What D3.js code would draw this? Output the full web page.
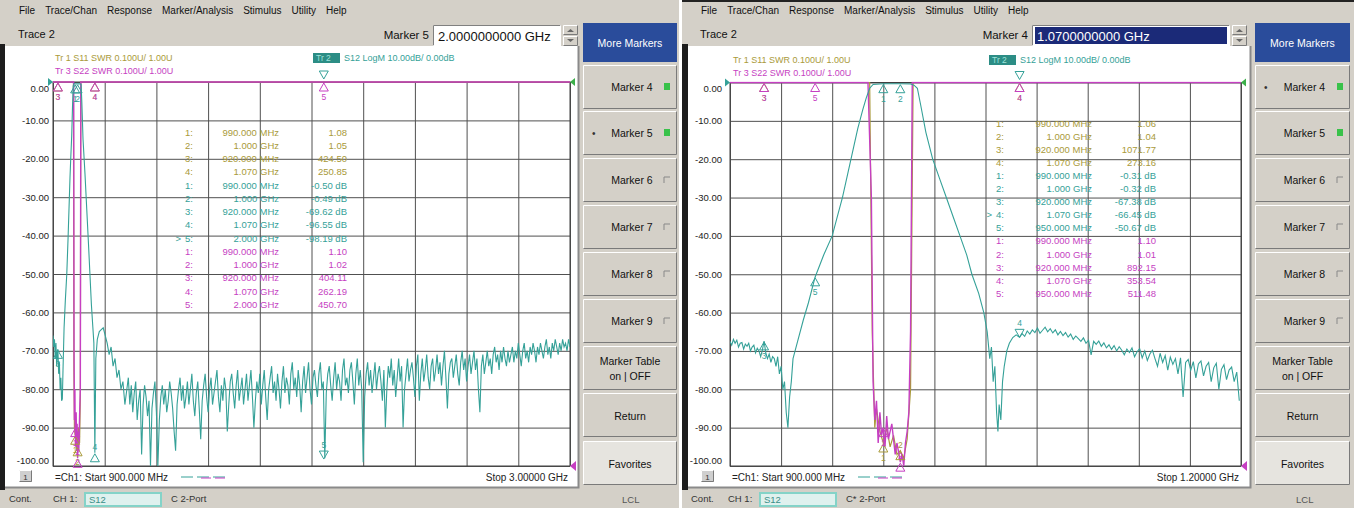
<!DOCTYPE html>
<html>
<head>
<meta charset="utf-8">
<script src="https://cdnjs.cloudflare.com/ajax/libs/d3/7.8.5/d3.min.js"></script>
<style>
body { margin: 0; background: #fff; }
svg text { font-family: "Liberation Sans", Arial, sans-serif; }
</style>
</head>
<body>
<div id="main"></div>
<script>
const yTicks = [0, -10, -20, -30, -40, -50, -60, -70, -80, -90, -100];
const leftGridFreqs = [900, 1110, 1320, 1530, 1740, 1950, 2160, 2370, 2580, 2790, 3000];
const rightGridFreqs = [900, 930, 960, 990, 1020, 1050, 1080, 1110, 1140, 1170, 1200];
const menuItems = ['File', 'Trace/Chan', 'Response', 'Marker/Analysis', 'Stimulus', 'Utility', 'Help'];
const sideButtons = ['Marker 4', 'Marker 5', 'Marker 6', 'Marker 7', 'Marker 8', 'Marker 9', 'Marker Table\non | OFF', 'Return', 'Favorites'];

// left screen, S12 LogM [MHz, dB] (filter skirts up to 1200 MHz)
const leftS12Shape = [[900,-66],[903,-69],[906,-67],[909,-72],[912,-68],[915,-74],[918,-70],[920,-69.6],[923,-76],[926,-73],
  [929,-80],[932,-77],[935,-83],[938,-82.5],[941,-74],[945,-64],[950,-57],[956,-50],[961,-41],[965,-33],[969,-25],[972,-20],
  [976,-14],[979,-7],[982,-1],[986,-0.4],[990,-0.5],[1000,-0.49],[1008,-0.5],[1014,-0.6],[1017,-5],[1022,-15],[1030,-24],
  [1037,-33],[1044,-42],[1050,-50],[1056,-58],[1062,-64],[1066,-68],[1070,-96.55],[1074,-72],[1080,-67],[1088,-65],[1096,-64.5],
  [1104,-64],[1112,-66],[1120,-68],[1128,-71],[1136,-69],[1144,-74],[1152,-72],[1160,-77],[1168,-75],[1176,-80],[1184,-78],[1192,-84]];
// left noise floor: one sweep point every 6 MHz from 1200 MHz
const leftNoiseStart = 1200, leftNoiseStep = 6;
const leftS12Noise = [
  -80,-77,-84,-79,-86,-81,-78,-88,-83,-80,-97,-84,-79,-82,-87,-83,-100,-85,-81,-78,
  -86,-100,-88,-82,-79,-84,-80,-86,-83,-78,-81,-85,-91,-96,-84,-80,-77,-83,-79,-85,
  -82,-78,-84,-80,-76,-83,-87,-81,-78,-85,-93,-83,-79,-76,-82,-86,-80,-77,-84,-81,
  -78,-75,-82,-86,-79,-83,-77,-80,-91,-84,-78,-76,-81,-85,-79,-75,-83,-80,-77,-84,
  -80,-76,-83,-79,-75,-82,-90,-83,-78,-81,-76,-84,-79,-75,-82,-88,-80,-77,-74,-81,
  -78,-83,-76,-80,-85,-78,-74,-81,-77,-79,-84,-76,-73,-80,-77,-82,-75,-79,-86,-78,
  -74,-81,-77,-73,-80,-84,-77,-75,-79,-82,-76,-73,-80,-78,-98,-81,-76,-74,-79,-83,
  -77,-73,-80,-76,-78,-83,-75,-72,-79,-77,-81,-75,-73,-78,-84,-76,-72,-79,-75,-80,
  -99,-82,-76,-73,-79,-75,-81,-77,-73,-80,-76,-74,-78,-83,-75,-90,-80,-74,-77,-72,
  -79,-75,-82,-77,-72,-78,-74,-90,-80,-76,-72,-78,-75,-73,-77,-82,-74,-71,-83,-76,
  -72,-78,-75,-71,-77,-80,-74,-72,-78,-75,-71,-76,-73,-79,-74,-70,-77,-85,-76,-73,
  -72,-77,-74,-71,-76,-79,-73,-70,-75,-72,-78,-74,-71,-76,-73,-70,-75,-72,-80,-86,
  -74,-71,-76,-73,-70,-74,-72,-76,-71,-69,-73,-71,-75,-70,-73,-69,-72,-74,-70,-73,
  -71,-69,-73,-70,-72,-68,-71,-74,-70,-68,-72,-70,-73,-69,-71,-68,-70,-73,-69,-71,
  -68,-70,-72,-69,-67,-71,-69,-72,-68,-70,-67,-69,-71,-68,-70,-67,-69,-68,-70,-67,
  -69];
// left SWR traces [MHz, SWR]
const leftS11 = [[900,424],[920,424.5],[979,50],[983,2.3],[985,1.25],[987,1.1],[990,1.08],[993,1.12],[996,1.04],[1000,1.05],
  [1004,1.1],[1008,1.06],[1011,1.18],[1013,2.4],[1018,70],[1070,250.85],[2000,400],[3000,380]];
const leftS22 = [[900,404],[920,404.11],[980,50],[984,2.5],[985.5,1.3],[987,1.12],[989,1.2],[990,1.10],[992,1.05],[994,1.14],
  [996,1.06],[998,1.11],[1000,1.02],[1002,1.09],[1005,1.04],[1008,1.13],[1011,1.2],[1013,2.6],[1018,80],[1070,262.19],[2000,450.70],[3000,420]];
// left markers [number, MHz, value]
const leftS11Markers = [[1,990,1.08],[2,1000,1.05],[3,920,424.50],[4,1070,250.85]];
const leftS12Markers = [[1,990,-0.50],[2,1000,-0.49],[3,920,-69.62],[4,1070,-96.55],[5,2000,-98.19]];
const leftS22Markers = [[1,990,1.10],[2,1000,1.02],[3,920,404.11],[4,1070,262.19],[5,2000,450.70]];

// right screen, S12 LogM [MHz, dB] up to 1068 MHz
const rightS12Shape = [[900,-67.5],[901,-68.5],[902,-67],[903,-68],[904,-67.2],[905,-69],[906,-68],[907,-67.8],[908,-69.5],[909,-68.2],
  [910,-68.8],[911,-68],[912,-70],[913,-69],[914,-68.5],[915,-70.5],[916,-69.3],[917,-70],[918,-71.5],[919,-69.8],[920,-67.4],
  [921,-70.5],[922,-72],[923,-70.8],[924,-73],[925,-71.5],[926,-72],[927,-74],[928,-71.5],[929,-76],[930,-74],[931,-80],[932,-78],
  [933,-86],[934,-90],[935,-82],[936,-78],[937,-72],[940,-67],[943,-62],[946,-57.5],[950,-50.7],[955,-45],[960,-40],[963,-35],
  [966,-30],[969,-24],[972,-18],[975,-12],[978,-7],[980,-4],[982,-1.5],[984,-0.5],[990,-0.31],[1000,-0.32],[1006,-0.4],[1008,-0.7],
  [1010,-1.5],[1012,-6],[1015,-13],[1019,-20],[1023,-25],[1027,-30],[1031,-35],[1035,-40],[1039,-45],[1042,-50],[1046,-55],
  [1049,-60],[1051,-65],[1052.5,-72],[1053.5,-69],[1054.5,-78],[1055.5,-74],[1056.5,-86],[1057.3,-91],[1058,-84],[1059,-88],
  [1060,-78],[1061,-74],[1062.5,-70],[1064,-68],[1066,-66.5],[1068,-65.8]];
// right noise: one sweep point every 1.5 MHz from 1070 MHz
const rightNoiseStart = 1070, rightNoiseStep = 1.5;
const rightS12Noise = [-66.4,-65.5,-66.2,-64.8,-65.6,-64.5,-65.2,-64,-65.4,-64.6,-63.8,-65,-64.2,-65.3,-64.5,-65.8,-64.9,-66,-65.2,-66.4,
  -65.6,-67,-66.1,-66.8,-67.5,-66.6,-68,-67.2,-71,-67.5,-68.3,-67.4,-68.8,-67.9,-69.2,-68.4,-69.6,-68.6,-70,-68.9,
  -69.8,-71,-69.5,-70.4,-69.2,-71.5,-70.2,-69.4,-71.8,-70,-72.5,-70.8,-69.8,-72,-74,-70.6,-73,-71.2,-75,-71.6,
  -73.5,-72,-76,-71.8,-82,-73,-72.2,-75,-72.8,-77,-73.4,-72.6,-76.5,-74,-73,-78,-74.4,-73.2,-80,-74.8,
  -73.6,-77.5,-75,-74.2,-78,-75.5,-83];
const rightS11 = [[900,1071],[920,1071.77],[978,90],[982,4],[983.5,1.35],[985,1.1],[986,1.15],[988,1.09],[990,1.06],[992,1.1],
  [994,1.05],[996,1.08],[998,1.03],[1000,1.04],[1002,1.02],[1004,1.07],[1006,1.2],[1007.5,2.5],[1011,80],[1070,273.16],[1200,480]];
const rightS22 = [[900,892],[920,892.15],[950,511.48],[975,120],[981,15],[983,1.7],[984,1.22],[985,1.12],[986,1.17],[987,1.06],
  [988,1.14],[989,1.08],[990,1.10],[991,1.05],[992,1.13],[993,1.07],[995,1.11],[997,1.03],[998,1.06],[1000,1.01],[1001,1.03],
  [1002,1.0],[1003,1.06],[1004,1.09],[1005,1.14],[1006,1.35],[1007,3],[1010,60],[1070,353.54],[1200,420]];
const rightS11Markers = [[1,990,1.06],[2,1000,1.04],[3,920,1071.77],[4,1070,273.16]];
const rightS12Markers = [[1,990,-0.31],[2,1000,-0.32],[3,920,-67.38],[4,1070,-66.45],[5,950,-50.67]];
const rightS22Markers = [[1,990,1.10],[2,1000,1.01],[3,920,892.15],[4,1070,353.54],[5,950,511.48]];

/// drawing ///
const W = 1354, H = 508;
const teal = '#35a198', olive = '#a99a3a', magenta = '#c63fc2', uiGray = '#d4d0c8';

const svg = d3.select('#main').append('svg')
  .attr('width', W).attr('height', H)
  .style('display', 'block');

svg.append('rect').attr('width', W).attr('height', H).attr('fill', '#fff');

let bevel = (g, x, y, w, h, fill, sunken) => {
  g.append('rect').attr('x', x).attr('y', y).attr('width', w).attr('height', h).attr('fill', fill);
  g.append('path').attr('d', `M${x + 0.5},${y + h - 0.5}V${y + 0.5}H${x + w - 0.5}`)
    .attr('fill', 'none').attr('stroke', sunken ? '#808080' : '#fff');
  g.append('path').attr('d', `M${x + 0.5},${y + h - 0.5}H${x + w - 0.5}V${y + 0.5}`)
    .attr('fill', 'none').attr('stroke', sunken ? '#fff' : '#7a7a7a');
};

let txt = (g, x, y, s, size, color, anchor) => g.append('text')
  .attr('x', x).attr('y', y).attr('font-size', size).attr('fill', color || '#111')
  .attr('text-anchor', anchor || 'start').text(s);

let fmtFreq = f => f < 1000 ? f.toFixed(3) + ' MHz' : (f / 1000).toFixed(3) + ' GHz';

let drawScreen = (s) => {
  const g = svg.append('g');

  // window body
  g.append('rect').attr('x', s.x0).attr('y', 0).attr('width', s.x1 - s.x0).attr('height', H).attr('fill', uiGray);
  if (s.topLine) g.append('rect').attr('x', s.x0).attr('y', 0).attr('width', s.x1 - s.x0).attr('height', 2).attr('fill', '#222');

  // menu bar
  let mx = s.x0 + 19;
  menuItems.forEach(m => {
    const t = txt(g, mx, 14, m, 10, '#111');
    mx += t.node().getComputedTextLength() + 10;
  });
  txt(g, s.x0 + 18, 38, 'Trace 2', 11, '#111');

  // marker entry
  txt(g, s.boxX - 4, 39, s.markerName, 11.5, '#111', 'end');
  bevel(g, s.boxX, 25, s.boxW, 21, '#fff', true);
  if (s.selected) {
    g.append('rect').attr('x', s.boxX + 3).attr('y', 27).attr('width', s.boxW - 6).attr('height', 17).attr('fill', '#1b2a78');
  }
  txt(g, s.boxX + 5, 41, s.markerValue, 13, s.selected ? '#fff' : '#111');
  bevel(g, s.boxX + s.boxW + 2, 25, 15, 10, uiGray, false);
  bevel(g, s.boxX + s.boxW + 2, 36, 15, 10, uiGray, false);
  g.append('path').attr('d', `M${s.boxX + s.boxW + 6},32l3.5,-3l3.5,3z`).attr('fill', '#666');
  g.append('path').attr('d', `M${s.boxX + s.boxW + 6},39l3.5,3l3.5,-3z`).attr('fill', '#666');

  // side panel
  g.append('rect').attr('x', s.sideX).attr('y', 23).attr('width', s.sideW).attr('height', 39).attr('fill', '#2a4c9b');
  txt(g, s.sideX + s.sideW / 2, 47, 'More Markers', 10.5, '#fff', 'middle');
  const tops = [65, 111, 158, 205, 252, 299, 346, 393, 441];
  sideButtons.forEach((b, i) => {
    const y = tops[i];
    bevel(g, s.sideX, y, s.sideW, 44, i === 8 ? '#e6e4df' : uiGray, false);
    const cx = s.sideX + s.sideW / 2;
    if (b.indexOf('\n') >= 0) {
      const parts = b.split('\n');
      txt(g, cx, y + 19, parts[0], 10.5, '#111', 'middle');
      txt(g, cx, y + 34, parts[1], 10.5, '#111', 'middle');
    } else if (i < 6) {
      txt(g, cx + 2, y + 26, b, 10.5, '#111', 'middle');
      if (s.markersOn.includes(b)) {
        g.append('rect').attr('x', s.sideX + s.sideW - 13).attr('y', y + 18).attr('width', 6).attr('height', 7).attr('fill', '#39c24a');
      } else {
        g.append('path').attr('d', `M${s.sideX + s.sideW - 13},${y + 25}V${y + 19}H${s.sideX + s.sideW - 7}`)
          .attr('fill', 'none').attr('stroke', '#888');
      }
      if (b === s.markerName) txt(g, s.sideX + 9, y + 26, '•', 10, '#333');
    } else {
      txt(g, cx, y + 27, b, 10.5, '#111', 'middle');
    }
  });

  // plot window
  g.append('rect').attr('x', s.panelX - s.edge).attr('y', 44).attr('width', s.edge).attr('height', 446).attr('fill', '#1d1d1d');
  g.append('rect').attr('x', s.panelX).attr('y', 46).attr('width', s.panelR - s.panelX).attr('height', 441).attr('fill', '#fff');
  g.append('path').attr('d', `M${s.panelX},487.5H${s.panelR + 0.5}V46`).attr('fill', 'none').attr('stroke', '#8a8a8a').attr('stroke-width', 2);

  // status bar
  txt(g, s.x0 + 9, 502, 'Cont.', 9.5, '#333');
  txt(g, s.chX, 502, 'CH 1:', 9.5, '#333');
  g.append('rect').attr('x', s.chX + 32).attr('y', 493).attr('width', 76).attr('height', 13)
    .attr('fill', '#dff1ee').attr('stroke', '#84d3c8').attr('stroke-width', 2);
  txt(g, s.chX + 36, 503, 'S12', 9.5, '#3a8f88');
  txt(g, s.chX + 118, 502, s.portText, 9.5, '#333');
  txt(g, s.lclX, 503, 'LCL', 9.5, '#555');

  // scales
  const x = d3.scaleLinear().domain([s.f0, s.f1]).range([s.plotL, s.plotR]);
  const y = d3.scaleLinear().domain([-100, 0]).range([s.plotB, s.plotT]).clamp(true);
  const ySwr = d3.scaleLinear().domain([1, 2]).range([s.plotB, s.plotT]).clamp(true);

  // grid
  const gx = g.append('g').attr('transform', `translate(0,${s.plotB})`)
    .call(d3.axisBottom(x).tickValues(s.grid).tickSize(-(s.plotB - s.plotT)).tickFormat(''));
  const gy = g.append('g').attr('transform', `translate(${s.plotL},0)`)
    .call(d3.axisLeft(y).tickValues(yTicks).tickSize(-(s.plotR - s.plotL)).tickFormat(''));
  [gx, gy].forEach(a => {
    a.select('.domain').remove();
    a.selectAll('line').attr('stroke', '#505050').attr('stroke-width', 1);
  });
  g.append('rect').attr('x', s.plotL).attr('y', s.plotT).attr('width', s.plotR - s.plotL).attr('height', s.plotB - s.plotT)
    .attr('fill', 'none').attr('stroke', '#404040');

  // y labels
  const yl = g.append('g').attr('transform', `translate(${s.plotL},0)`)
    .call(d3.axisLeft(y).tickValues(yTicks).tickSize(0).tickPadding(s.plotL - s.labelR).tickFormat(d => d.toFixed(2)));
  yl.select('.domain').remove();
  yl.selectAll('text').attr('font-size', 9.5).attr('fill', '#222')
    .attr('font-family', '"Liberation Sans", Arial, sans-serif')
    .attr('dy', d => d === 0 ? '0.95em' : d === -100 ? '-0.3em' : '0.32em');

  // header
  txt(g, s.hdrX, s.hdrY, 'Tr 1  S11 SWR 0.100U/ 1.00U', 9, olive);
  txt(g, s.hdrX, s.hdrY + 13, 'Tr 3  S22 SWR 0.100U/ 1.00U', 9, magenta);
  g.append('rect').attr('x', s.tr2X).attr('y', s.hdrY - 8).attr('width', 27).attr('height', 10).attr('fill', '#2c8d85');
  txt(g, s.tr2X + 3, s.hdrY, 'Tr 2', 8.5, '#9fe3da');
  txt(g, s.tr2X + 31, s.hdrY, 'S12 LogM 10.00dB/ 0.00dB', 9, teal);

  // reference arrows
  g.append('path').attr('d', `M${s.plotL - 5},${s.plotT - 4}l5,4l-5,4z`).attr('fill', teal);
  g.append('path').attr('d', `M${s.plotR + 5},${s.plotT - 4}l-5,4l5,4z`).attr('fill', '#3cb04a');
  g.append('path').attr('d', `M${s.plotR + 6},${s.plotB - 5}l-6,5l6,5z`).attr('fill', magenta);

  // bottom texts
  bevel(g, s.x0 + 19, 470, 13, 12, '#cfcfcf', false);
  txt(g, s.x0 + 25.5, 480, '1', 8, '#333', 'middle');
  txt(g, s.plotL + 2, 481, '=Ch1: Start 900.000 MHz', 10, '#222');
  g.append('line').attr('x1', s.plotL + 128).attr('x2', s.plotL + 172).attr('y1', 477).attr('y2', 477)
    .attr('stroke', teal).attr('stroke-dasharray', '12,4');
  g.append('line').attr('x1', s.plotL + 148).attr('x2', s.plotL + 176).attr('y1', 478).attr('y2', 478)
    .attr('stroke', magenta).attr('stroke-dasharray', '10,4');
  txt(g, s.plotR - 2, 481, s.stopText, 10, '#222', 'end');

  // traces
  const clipId = 'clip' + s.x0;
  svg.append('clipPath').attr('id', clipId).append('rect')
    .attr('x', s.plotL).attr('y', s.plotT - 1).attr('width', s.plotR - s.plotL).attr('height', s.plotB - s.plotT + 2);
  const tr = g.append('g').attr('clip-path', `url(#${clipId})`);
  const lineDb = d3.line().x(d => x(d[0])).y(d => y(d[1]));
  const lineSwr = d3.line().x(d => x(d[0])).y(d => ySwr(d[1]));
  tr.append('path').datum(s.s11).attr('d', lineSwr).attr('fill', 'none').attr('stroke', olive).attr('stroke-width', 1.2);
  tr.append('path').datum(s.s22).attr('d', lineSwr).attr('fill', 'none').attr('stroke', magenta).attr('stroke-width', 1.4);
  tr.append('path').datum(s.s12).attr('d', lineDb).attr('fill', 'none').attr('stroke', teal).attr('stroke-width', 1.1);

  // markers
  let drawMarkers = (list, scale, color) => {
    list.forEach(m => {
      const mx = x(m[1]), my = scale(m[2]);
      const active = color === teal && m[0] === s.activeMarker;
      if (active) {
        g.append('path').attr('d', `M${mx},${my}l-4.5,-8h9z`).attr('fill', 'none').attr('stroke', color);
        txt(g, mx, my - 11, m[0], 8.5, color, 'middle');
        g.append('path').attr('d', `M${mx},${s.plotT - 3}l-4.5,-8h9z`).attr('fill', 'none').attr('stroke', teal);
      } else {
        g.append('path').attr('d', `M${mx},${my + 1}l-4.5,8h9z`).attr('fill', 'none').attr('stroke', color);
        // near the bottom edge the number goes above the symbol
        const ly = my + 18 > s.plotB ? my - 3 : my + 18;
        txt(g, mx, ly, m[0], 8.5, color, 'middle');
      }
    });
  };
  drawMarkers(s.m11, ySwr, olive);
  drawMarkers(s.m22, ySwr, magenta);
  drawMarkers(s.m12, y, teal);

  // marker table
  const rows = [];
  s.m11.forEach(m => rows.push([m, olive, false]));
  s.m12.forEach(m => rows.push([m, teal, true]));
  s.m22.forEach(m => rows.push([m, magenta, false]));
  rows.forEach((r, i) => {
    const ty = s.tblY + i * s.tblStep + 3.5;
    const m = r[0];
    if (r[2] && m[0] === s.activeMarker) txt(g, s.tblNum - 12, ty, '>', 9.5, r[1], 'end');
    txt(g, s.tblNum, ty, m[0] + ':', 9.5, r[1], 'end');
    txt(g, s.tblFreq, ty, fmtFreq(m[1]), 9.5, r[1], 'end');
    txt(g, s.tblVal, ty, r[2] ? m[2].toFixed(2) + ' dB' : m[2].toFixed(2), 9.5, r[1], 'end');
  });
};

let withNoise = (shape, start, step, noise) => shape.concat(noise.map((v, i) => [start + i * step, v]));

drawScreen({
  x0: 0, x1: 679, topLine: false,
  markerName: 'Marker 5', markerValue: '2.0000000000 GHz', selected: false, boxX: 433, boxW: 128,
  sideX: 583, sideW: 94, markersOn: ['Marker 4', 'Marker 5'],
  panelX: 5, panelR: 578, edge: 5,
  chX: 53, portText: 'C 2-Port', lclX: 622,
  f0: 900, f1: 3000, grid: leftGridFreqs,
  plotL: 53, plotR: 570, plotT: 82, plotB: 466, labelR: 49,
  hdrX: 55, hdrY: 61, tr2X: 313,
  stopText: 'Stop  3.00000 GHz',
  s12: withNoise(leftS12Shape, leftNoiseStart, leftNoiseStep, leftS12Noise), s11: leftS11, s22: leftS22,
  m11: leftS11Markers, m12: leftS12Markers, m22: leftS22Markers, activeMarker: 5,
  tblY: 132, tblStep: 13.25, tblNum: 193, tblFreq: 279, tblVal: 347
});

drawScreen({
  x0: 682, x1: 1354, topLine: true,
  markerName: 'Marker 4', markerValue: '1.0700000000 GHz', selected: true, boxX: 1032, boxW: 198,
  sideX: 1255, sideW: 95, markersOn: ['Marker 4', 'Marker 5'],
  panelX: 688, panelR: 1250, edge: 6,
  chX: 728, portText: 'C* 2-Port', lclX: 1296,
  f0: 900, f1: 1200, grid: rightGridFreqs,
  plotL: 730, plotR: 1241, plotT: 82.5, plotB: 466, labelR: 722,
  hdrX: 733, hdrY: 63, tr2X: 989,
  stopText: 'Stop  1.20000 GHz',
  s12: withNoise(rightS12Shape, rightNoiseStart, rightNoiseStep, rightS12Noise), s11: rightS11, s22: rightS22,
  m11: rightS11Markers, m12: rightS12Markers, m22: rightS22Markers, activeMarker: 4,
  tblY: 123, tblStep: 13.1, tblNum: 1004, tblFreq: 1092, tblVal: 1156
});
</script>
</body>
</html>
